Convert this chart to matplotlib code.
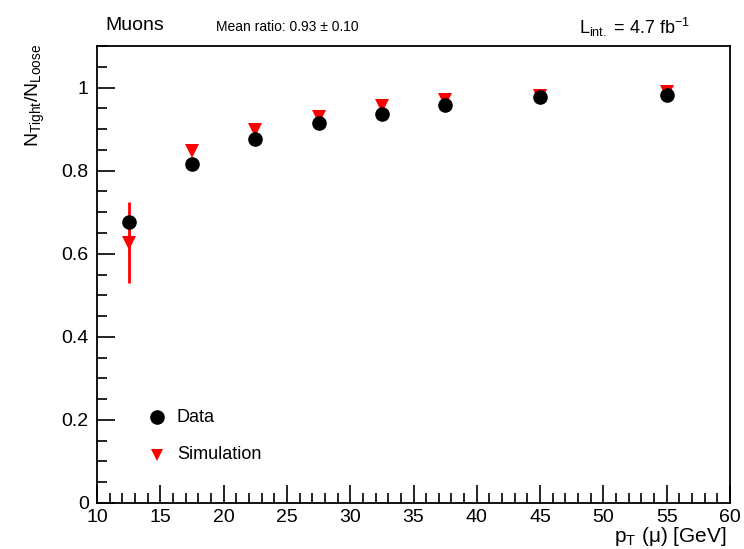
import matplotlib
matplotlib.use("Agg")
import matplotlib.pyplot as plt
from matplotlib.ticker import MultipleLocator

plt.rcParams['font.family'] = ['Liberation Sans', 'DejaVu Sans']
plt.rcParams['mathtext.fontset'] = 'custom'
plt.rcParams['mathtext.rm'] = 'Liberation Sans'
plt.rcParams['mathtext.it'] = 'Liberation Sans:italic'

pt = [12.5, 17.5, 22.5, 27.5, 32.5, 37.5, 45, 55]
data_eff = [0.677, 0.815, 0.877, 0.915, 0.937, 0.957, 0.978, 0.983]
sim_eff = [0.627, 0.848, 0.899, 0.929, 0.955, 0.971, 0.979, 0.990]
sim_err = [0.097, 0.0, 0.0, 0.0, 0.0, 0.0, 0.0, 0.0]

fig = plt.figure(figsize=(7.44, 5.49), dpi=100)
ax = fig.add_axes([0.1304, 0.0838, 0.8508, 0.8324])

ax.errorbar(pt, sim_eff, yerr=sim_err, fmt='v', color='#ff0000', ms=9.5,
            elinewidth=2, capsize=0, mew=0, zorder=2)
ax.plot(pt, data_eff, 'o', color='black', ms=9.5, zorder=3)

ax.set_xlim(10, 60)
ax.set_ylim(0, 1.1)
ax.xaxis.set_major_locator(MultipleLocator(5))
ax.xaxis.set_minor_locator(MultipleLocator(1))
ax.yaxis.set_major_locator(MultipleLocator(0.2))
ax.yaxis.set_minor_locator(MultipleLocator(0.05))
ax.set_yticks([0, 0.2, 0.4, 0.6, 0.8, 1.0])
ax.set_yticklabels(['0', '0.2', '0.4', '0.6', '0.8', '1'])
ax.tick_params(which='both', direction='in', labelsize=14, width=1.2)
ax.tick_params(which='major', length=13)
ax.tick_params(which='minor', length=7)
ax.tick_params(axis='y', pad=6)
ax.tick_params(axis='x', pad=4)
for s in ax.spines.values():
    s.set_linewidth(1.3)

fig.text(35/744, 1 - 95/549, r'N$_{\mathrm{Tight}}$/N$_{\mathrm{Loose}}$',
         rotation=90, ha='center', va='center', fontsize=14)
fig.text(727/744, 1 - 537/549, r'p$_{\mathrm{T}}$ (μ) [GeV]',
         ha='right', va='center', fontsize=15)

fig.text(105/744, 1 - 25/549, 'Muons', ha='left', va='center', fontsize=14)
fig.text(216/744, 1 - 27/549, 'Mean ratio: 0.93 ± 0.10', ha='left', va='center', fontsize=10)
fig.text(690/744, 1 - 27/549, r'L$_{\mathrm{int.}}$ = 4.7 fb$^{\mathrm{-1}}$',
         ha='right', va='center', fontsize=13)

# legend
ax.plot([14.75], [0.206], 'o', color='black', ms=9.5, clip_on=False)
ax.plot([14.75], [0.116], 'v', color='#ff0000', ms=9, mew=0, clip_on=False)
ax.text(16.3, 0.206, 'Data', ha='left', va='center', fontsize=13)
ax.text(16.3, 0.116, 'Simulation', ha='left', va='center', fontsize=13)

fig.savefig('out.png', dpi=100)
